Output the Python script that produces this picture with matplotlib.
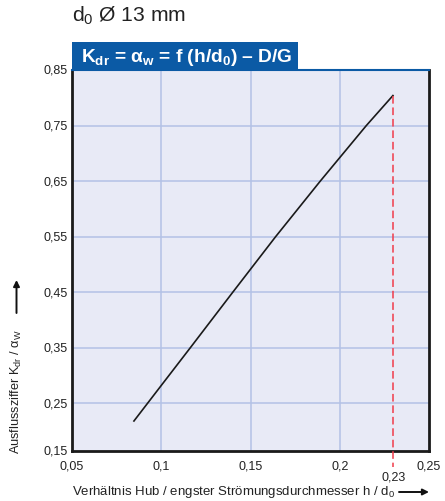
import matplotlib.pyplot as plt
from matplotlib.patches import Rectangle

plt.rcParams['font.family'] = ['Liberation Sans', 'DejaVu Sans']
plt.rcParams['mathtext.fontset'] = 'custom'
plt.rcParams['mathtext.rm'] = 'Liberation Sans'
plt.rcParams['mathtext.it'] = 'Liberation Sans'
plt.rcParams['mathtext.bf'] = 'Liberation Sans:bold'

# curve
hub_ratio = [0.0847, 0.100, 0.1163, 0.1401, 0.1641, 0.1891, 0.2149, 0.2298]
kdr = [0.218, 0.282, 0.350, 0.450, 0.550, 0.650, 0.750, 0.804]

x_ticks = [0.05, 0.10, 0.15, 0.20, 0.25]
x_labels = ['0,05', '0,1', '0,15', '0,2', '0,25']
y_ticks = [0.164, 0.25, 0.35, 0.45, 0.55, 0.65, 0.75, 0.85]
y_labels = ['0,15', '0,25', '0,35', '0,45', '0,55', '0,65', '0,75', '0,85']
h_mark = 0.23

W, H = 445, 502


def px(x, y):
    # pixel position (from top left) -> figure fraction
    return x / W, 1 - y / H


fig = plt.figure(figsize=(W / 100, H / 100), dpi=100)
ax = fig.add_axes([72 / W, 1 - 452 / H, (429 - 72) / W, (452 - 71) / H])

blue = '#0b5aa5'
txt = '#222222'
ax.set_facecolor('#e8eaf6')
ax.set_xlim(0.05, 0.25)
ax.set_ylim(0.164, 0.85)
ax.set_xticks(x_ticks[1:-1])
ax.set_yticks(y_ticks[1:-1])
ax.set_xticklabels([])
ax.set_yticklabels([])
ax.tick_params(length=0)
ax.grid(True, color='#b3c1e6', linewidth=1.1)

ax.plot(hub_ratio, kdr, color='#1a1a1a', linewidth=1.2, zorder=3,
        solid_joinstyle='round')
ax.plot([h_mark, h_mark], [kdr[-1], 0.135], color='#f03c4a', linewidth=1.1,
        dashes=(5, 2.5), clip_on=False, zorder=3)

for s in ['left', 'bottom', 'right']:
    ax.spines[s].set_linewidth(2)
    ax.spines[s].set_color('#1a1a1a')
ax.spines['top'].set_color(blue)
ax.spines['top'].set_linewidth(1.5)

# tick labels placed as in the original
for t, lab in zip(y_ticks, y_labels):
    ax.text(-0.013, t, lab, transform=ax.get_yaxis_transform(), ha='right',
            va='center', fontsize=9, color=txt)
for t, lab in zip(x_ticks, x_labels):
    ax.text(t, -0.037, lab, transform=ax.get_xaxis_transform(), ha='center',
            va='center', fontsize=9, color=txt)
ax.text(h_mark, -0.066, '0,23', transform=ax.get_xaxis_transform(), ha='center',
        va='center', fontsize=9, color=txt)

# title box
fig.add_artist(Rectangle(px(72, 71), (298 - 72) / W, 28 / H,
                         transform=fig.transFigure, facecolor=blue,
                         edgecolor='none'))
fig.text(*px(81, 57), r'K$_{\mathbf{dr}}$ = α$_{\mathbf{w}}$ = f (h/d$_\mathbf{0}$) – D/G',
         color='white', fontsize=13.8, fontweight='bold', va='center', ha='left')

fig.text(*px(72, 16), r'd$_0$ Ø 13 mm', fontsize=15.2, va='center',
         ha='left', color=txt)

# axis titles with arrows
fig.text(*px(72, 492), r'Verhältnis Hub / engster Strömungsdurchmesser h / d$_0$',
         fontsize=9.5, va='center', ha='left', color=txt)
ax.annotate('', xy=px(429, 493), xytext=px(399, 493), xycoords='figure fraction',
            arrowprops=dict(arrowstyle='-|>', color='#111111', lw=1.4,
                            mutation_scale=9, shrinkA=0, shrinkB=0))
fig.text(*px(16, 454), r'Ausflussziffer K$_{dr}$ / α$_W$', fontsize=9.2,
         rotation=90, rotation_mode='anchor', va='center', ha='left', color=txt)
ax.annotate('', xy=px(16.5, 281), xytext=px(16.5, 314), xycoords='figure fraction',
            arrowprops=dict(arrowstyle='-|>', color='#111111', lw=1.4,
                            mutation_scale=9, shrinkA=0, shrinkB=0))

fig.savefig('out.png', dpi=100)
